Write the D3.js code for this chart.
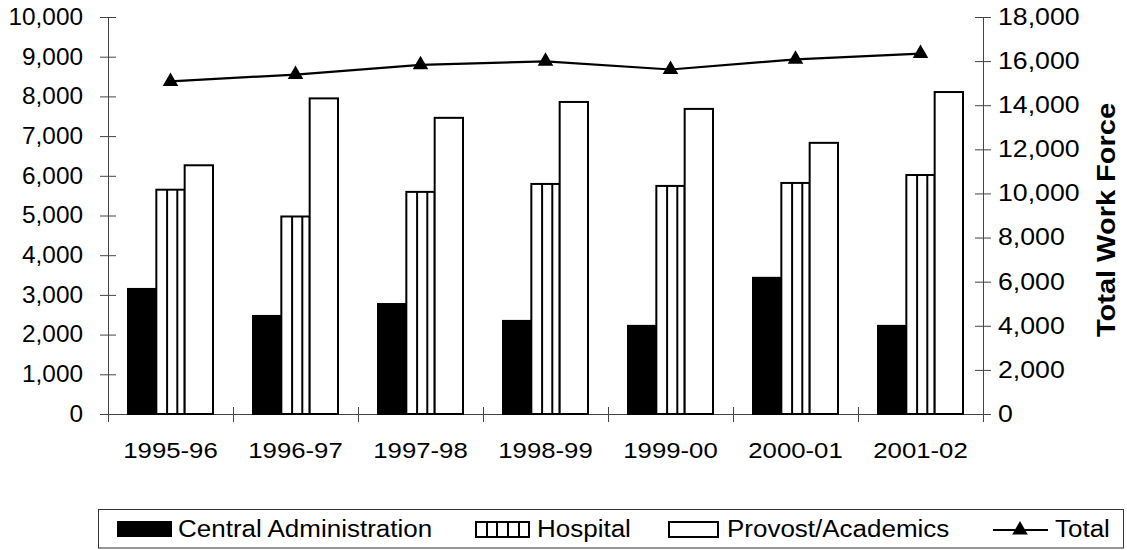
<!DOCTYPE html>
<html>
<head>
<meta charset="utf-8">
<script src="https://cdn.jsdelivr.net/npm/d3@7/dist/d3.min.js"></script>
<style>
  html, body { margin: 0; padding: 0; background: #fff; }
  svg { display: block; }
  text { font-family: Arial, "Liberation Sans", sans-serif; fill: #000; }
</style>
</head>
<body>
<script>
const categories = ["1995-96", "1996-97", "1997-98", "1998-99", "1999-00", "2000-01", "2001-02"];
const centralAdmin = [3150, 2470, 2770, 2345, 2220, 3430, 2220];
const hospital = [5650, 4975, 5595, 5795, 5745, 5820, 6020];
const provost = [6265, 7950, 7460, 7860, 7685, 6830, 8110];
const total = [15080, 15390, 15830, 15990, 15620, 16080, 16340];
const leftTicks = [0, 1000, 2000, 3000, 4000, 5000, 6000, 7000, 8000, 9000, 10000];
const rightTicks = [0, 2000, 4000, 6000, 8000, 10000, 12000, 14000, 16000, 18000];
const seriesNames = ["Central Administration", "Hospital", "Provost/Academics", "Total"];

const W = 1127, H = 550;
const L = 108, R = 983, T = 17, B = 414;
const FS = 23;

const svg = d3.select("body").append("svg").attr("width", W).attr("height", H);

const x = d3.scaleBand().domain(categories).range([L, R]).paddingInner(0.32).paddingOuter(0.16);
const xs = d3.scaleBand().domain([0, 1, 2]).range([0, x.bandwidth()]);
const xIdx = d3.scaleLinear().domain([0, categories.length]).range([L, R]);
const yL = d3.scaleLinear().domain([0, 10000]).range([B, T]);
const yR = d3.scaleLinear().domain([0, 18000]).range([B, T]);
const fmt = d3.format(",");

// Axes
const axisColor = "#444";
const gL = svg.append("g").attr("transform", `translate(${L},0)`)
  .call(d3.axisLeft(yL).tickValues(leftTicks).tickFormat(fmt).tickSizeOuter(0));
gL.select(".domain").attr("stroke", axisColor);
gL.selectAll(".tick line").attr("x1", -8).attr("x2", 8).attr("stroke", axisColor);
gL.selectAll(".tick text").attr("font-size", FS).attr("font-family", "Arial, 'Liberation Sans', sans-serif")
  .attr("transform", "scale(1.06,1)").attr("x", -25 / 1.06);

const gR = svg.append("g").attr("transform", `translate(${R},0)`)
  .call(d3.axisRight(yR).tickValues(rightTicks).tickFormat(fmt).tickSizeOuter(0));
gR.select(".domain").attr("stroke", axisColor);
gR.selectAll(".tick line").attr("x1", -8).attr("x2", 8).attr("stroke", axisColor);
gR.selectAll(".tick text").attr("font-size", FS).attr("font-family", "Arial, 'Liberation Sans', sans-serif")
  .attr("transform", "scale(1.16,1)").attr("x", 15 / 1.16);

const gB = svg.append("g").attr("transform", `translate(0,${B})`)
  .call(d3.axisBottom(xIdx).tickValues(d3.range(categories.length + 1)).tickFormat("").tickSizeOuter(0));
gB.select(".domain").attr("stroke", axisColor);
gB.selectAll(".tick line").attr("y1", -7).attr("y2", 8).attr("stroke", axisColor);

// Category labels
svg.append("g").selectAll("text").data(categories).join("text")
  .attr("transform", d => `translate(${x(d) + x.bandwidth() / 2},458) scale(1.12,1)`)
  .attr("text-anchor", "middle").attr("font-size", FS).text(d => d);

// Right axis title
svg.append("text")
  .attr("transform", "translate(1115,220) rotate(-90) scale(1.16,1)")
  .attr("text-anchor", "middle").attr("font-size", 25).attr("font-weight", "bold")
  .text("Total Work Force");

// Bars
const bars = svg.append("g");
const series = [centralAdmin, hospital, provost];
series.forEach((vals, si) => {
  const g = bars.append("g");
  g.selectAll("rect").data(vals).join("rect")
    .attr("x", (d, i) => x(categories[i]) + xs(si))
    .attr("y", d => yL(d))
    .attr("width", xs.bandwidth())
    .attr("height", d => B - yL(d))
    .attr("fill", si === 0 ? "#000" : "#fff")
    .attr("stroke", "#000").attr("stroke-width", 2);
  if (si === 1) {
    [0.38, 0.74].forEach(f => {
      g.append("g").selectAll("line").data(vals).join("line")
        .attr("x1", (d, i) => x(categories[i]) + xs(si) + xs.bandwidth() * f)
        .attr("x2", (d, i) => x(categories[i]) + xs(si) + xs.bandwidth() * f)
        .attr("y1", d => yL(d)).attr("y2", B)
        .attr("stroke", "#000").attr("stroke-width", 2);
    });
  }
});

// Total line
const line = d3.line().x((d, i) => x(categories[i]) + x.bandwidth() / 2).y(d => yR(d));
svg.append("path").datum(total).attr("d", line).attr("fill", "none").attr("stroke", "#000").attr("stroke-width", 2.2);
const tri = d3.symbol().type(d3.symbolTriangle).size(105);
svg.append("g").selectAll("path").data(total).join("path")
  .attr("transform", (d, i) => `translate(${x(categories[i]) + x.bandwidth() / 2},${yR(d)})`)
  .attr("d", tri).attr("fill", "#000");

// Legend
const lg = svg.append("g");
lg.append("rect").attr("x", 98.5).attr("y", 509.5).attr("width", 1025).attr("height", 38.5)
  .attr("fill", "none").attr("stroke", "#333").attr("stroke-width", 1);
const sy = 521, sh = 16;
// Central
lg.append("rect").attr("x", 117).attr("y", sy).attr("width", 55).attr("height", sh).attr("fill", "#000");
// Hospital
lg.append("rect").attr("x", 476).attr("y", sy + 1).attr("width", 53).attr("height", sh - 1)
  .attr("fill", "#fff").attr("stroke", "#000").attr("stroke-width", 2);
lg.selectAll("line.h").data([487, 497, 508, 519]).join("line").attr("class", "h")
  .attr("x1", d => d).attr("x2", d => d).attr("y1", sy + 1).attr("y2", sy + sh)
  .attr("stroke", "#000").attr("stroke-width", 2);
// Provost
lg.append("rect").attr("x", 669).attr("y", sy + 1).attr("width", 49).attr("height", sh - 1)
  .attr("fill", "#fff").attr("stroke", "#000").attr("stroke-width", 2);
// Total
lg.append("line").attr("x1", 993).attr("x2", 1048).attr("y1", 530).attr("y2", 530)
  .attr("stroke", "#000").attr("stroke-width", 2);
lg.append("path").attr("transform", "translate(1020,530)").attr("d", tri).attr("fill", "#000");

const legendText = [[178, seriesNames[0]], [537, seriesNames[1]], [727, seriesNames[2]], [1055, seriesNames[3]]];
lg.selectAll("text").data(legendText).join("text")
  .attr("transform", d => `translate(${d[0]},537) scale(1.13,1)`)
  .attr("font-size", FS).text(d => d[1]);
</script>
</body>
</html>
